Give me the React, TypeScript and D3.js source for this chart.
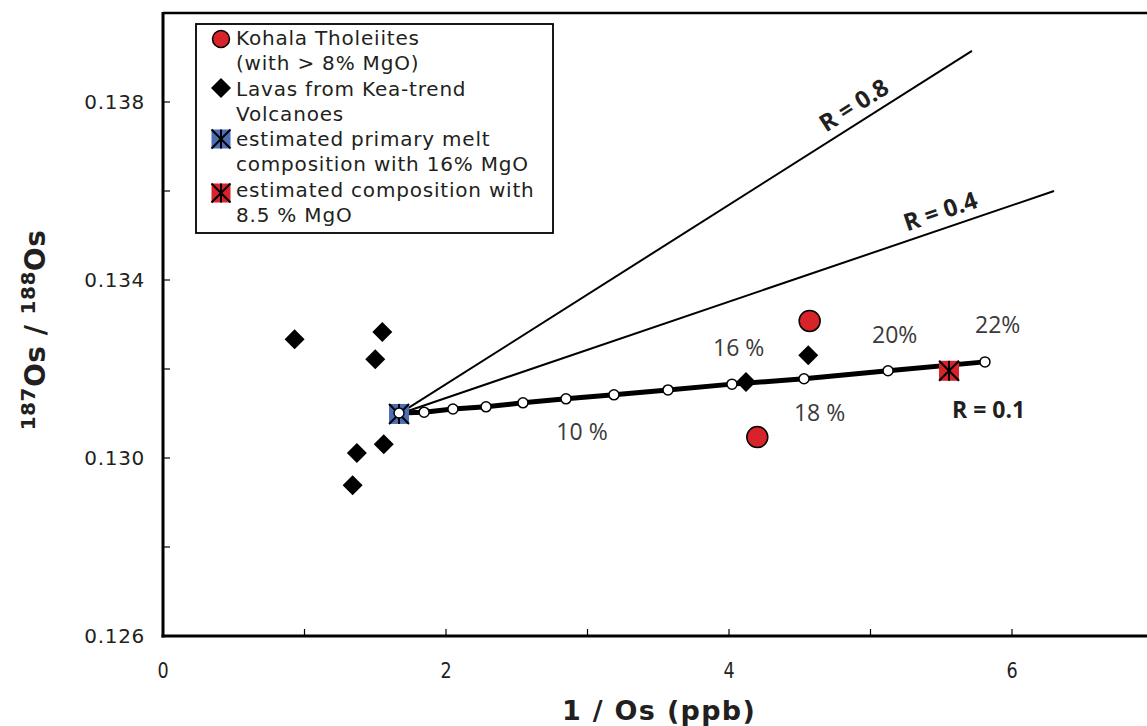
import React, { useEffect } from 'react';
import * as d3 from 'd3';

// Lavas from Kea-trend volcanoes
const keaX = [0.93, 1.55, 1.5, 1.37, 1.56, 1.34, 4.12, 4.56];
const keaY = [0.13267, 0.13283, 0.13222, 0.13011, 0.13031, 0.12939, 0.13171, 0.13231];

// Kohala tholeiites (> 8% MgO)
const kohalaX = [4.57, 4.2];
const kohalaY = [0.13308, 0.13047];

// estimated compositions
const primaryMelt = [1.668, 0.13099];
const melt85 = [5.555, 0.13196];

// R = 0.1 mixing curve points
const mixX = [1.668, 1.845, 2.049, 2.283, 2.544, 2.848, 3.187, 3.569, 4.021, 4.53, 5.124, 5.809];
const mixY = [0.13101, 0.13103, 0.1311, 0.13115, 0.13124, 0.13133, 0.13142, 0.13153, 0.13166, 0.13178, 0.13196, 0.13216];

// R = 0.8 / 0.4 lines end points
const rLabels = ['R = 0.8', 'R = 0.4'];
const rEndX = [5.717, 6.297];
const rEndY = [0.13915, 0.136];

const pctLabels = ['10 %', '16 %', '18 %', '20%', '22%'];
const pctX = [2.78, 3.887, 4.459, 5.011, 5.739];
const pctY = [0.1304, 0.13229, 0.13083, 0.13258, 0.13281];

const yMajor = [0.126, 0.13, 0.134, 0.138];
const yMinor = [0.128, 0.132, 0.136];
const xMajor = [0, 2, 4, 6];
const xMinor = [1, 3, 5, 7];

const W = 1147;
const H = 726;
const left = 163;
const bottom = 636;

const x = d3.scaleLinear().domain([0, 7]).range([left, left + 7 * 141.5]);
const y = d3.scaleLinear().domain([0.126, 0.14]).range([bottom, bottom - 3.5 * 178]);

const RED = '#d7242b';
const BLUE = '#4d6db5';
const TXT = '#231f20';

const starMark = (cx: number, cy: number, fill: string, s = 10) => (
  <g>
    <rect x={cx - s} y={cy - s} width={2 * s} height={2 * s} fill={fill} />
    <g stroke="#000" strokeWidth={2}>
      <line x1={cx} y1={cy - s} x2={cx} y2={cy + s} />
      <line x1={cx - s} y1={cy - s} x2={cx + s} y2={cy + s} />
      <line x1={cx - s} y1={cy + s} x2={cx + s} y2={cy - s} />
    </g>
  </g>
);

const diamond = d3.symbol(d3.symbolSquare, 200)();

const legendLines = [
  'Kohala Tholeiites',
  '(with > 8% MgO)',
  'Lavas from Kea-trend',
  'Volcanoes',
  'estimated primary melt',
  'composition with 16% MgO',
  'estimated composition with',
  '8.5 % MgO',
];

const App: React.FC = () => {
  useEffect(() => {
    document.body.style.margin = '0';
  }, []);

  const top = y(0.14);
  const px0 = x(primaryMelt[0]);
  const py0 = y(primaryMelt[1]);
  const mixLine = d3
    .line<number>()
    .x((d) => x(d))
    .y((d, i) => y(mixY[i]));

  const legX = 236;
  const legBase = [45, 70, 96, 121, 146, 171, 197, 222];

  return (
    <svg width={W} height={H} style={{ display: 'block', background: '#fff' }}>
      {/* frame */}
      <line x1={left} y1={top} x2={W} y2={top} stroke="#000" strokeWidth={2.5} />
      <line x1={left} y1={top - 1} x2={left} y2={bottom + 1.5} stroke="#000" strokeWidth={3} />
      <line x1={left - 1.5} y1={bottom} x2={W} y2={bottom} stroke="#000" strokeWidth={3} />

      {/* y ticks */}
      {[...yMajor, ...yMinor].map((v) => (
        <line key={'yt' + v} x1={left} x2={left + 7} y1={y(v)} y2={y(v)} stroke="#000" strokeWidth={1.2} />
      ))}
      {yMajor.map((v) => (
        <text
          key={'yl' + v}
          x={left - 18}
          y={y(v)}
          dy="0.36em"
          textAnchor="end"
          fontFamily="DejaVu Sans, Verdana, sans-serif"
          fontSize={20}
          letterSpacing={0.7}
          fill={TXT}
        >
          {d3.format('.3f')(v)}
        </text>
      ))}

      {/* x ticks */}
      {[...xMajor.filter((v) => v > 0), ...xMinor].map((v) => (
        <line key={'xt' + v} x1={x(v)} x2={x(v)} y1={bottom} y2={bottom - 7} stroke="#000" strokeWidth={1.2} />
      ))}
      {xMajor.map((v) => (
        <text
          key={'xl' + v}
          transform={`translate(${x(v)},678) scale(0.8,1)`}
          textAnchor="middle"
          fontFamily="DejaVu Sans, sans-serif"
          fontSize={22}
          fill={TXT}
        >
          {v}
        </text>
      ))}

      {/* axis titles */}
      <text
        x={659}
        y={720}
        textAnchor="middle"
        fontFamily="DejaVu Sans, Verdana, sans-serif"
        fontWeight="bold"
        fontSize={27}
        letterSpacing={1.3}
        fill={TXT}
      >
        1 / Os (ppb)
      </text>
      <text
        transform={`translate(45, ${330}) rotate(-90)`}
        textAnchor="middle"
        fontFamily="DejaVu Sans, Verdana, sans-serif"
        fontWeight="bold"
        fontSize={28}
        letterSpacing={0.5}
        fill={TXT}
      >
        <tspan fontSize={20} dy={-10}>187</tspan>
        <tspan dy={10}>Os / </tspan>
        <tspan fontSize={20} dy={-10}>188</tspan>
        <tspan dy={10}>Os</tspan>
      </text>

      {/* R = 0.8 and 0.4 lines */}
      {rLabels.map((lab, i) => {
        const x2 = x(rEndX[i]);
        const y2 = y(rEndY[i]);
        const ang = (Math.atan2(y2 - py0, x2 - px0) * 180) / Math.PI;
        const t = i === 0 ? 0.81 : 0.835;
        const lx = px0 + (x2 - px0) * t;
        const ly = py0 + (y2 - py0) * t;
        return (
          <g key={lab}>
            <line x1={px0} y1={py0} x2={x2} y2={y2} stroke="#000" strokeWidth={2} />
            <text
              transform={`translate(${lx},${ly}) rotate(${ang})`}
              dy={-9}
              textAnchor="middle"
              fontFamily="Open Sans, Noto Sans, sans-serif"
              fontWeight="bold"
              fontSize={24}
              fill={TXT}
            >
              {lab}
            </text>
          </g>
        );
      })}

      {/* R = 0.1 mixing line */}
      <path d={mixLine(mixX) || ''} fill="none" stroke="#000" strokeWidth={5} />
      <text
        x={952}
        y={418}
        fontFamily="Open Sans, Noto Sans, sans-serif"
        fontWeight="bold"
        fontSize={23}
        fill={TXT}
      >
        R = 0.1
      </text>

      {pctLabels.map((lab, i) => (
        <text
          key={lab}
          x={x(pctX[i])}
          y={y(pctY[i])}
          fontFamily="Open Sans, Noto Sans, sans-serif"
          fontSize={23}
          fill="#3a3a3a"
        >
          {lab}
        </text>
      ))}

      {/* estimated compositions */}
      {starMark(px0, py0, BLUE)}
      {starMark(x(melt85[0]), y(melt85[1]), RED)}

      {/* open circles */}
      {mixX.map((v, i) => (
        <circle key={'m' + i} cx={x(v)} cy={y(mixY[i])} r={5} fill="#fff" stroke="#000" strokeWidth={1.5} />
      ))}

      {/* Kea-trend lavas */}
      {keaX.map((v, i) => (
        <path
          key={'k' + i}
          d={diamond || ''}
          transform={`translate(${x(v)},${y(keaY[i])}) rotate(45)`}
          fill="#000"
        />
      ))}

      {/* Kohala tholeiites */}
      {kohalaX.map((v, i) => (
        <circle key={'c' + i} cx={x(v)} cy={y(kohalaY[i])} r={10.5} fill={RED} stroke="#000" strokeWidth={1.5} />
      ))}

      {/* legend */}
      <rect x={196} y={24} width={357} height={209} fill="#fff" stroke="#000" strokeWidth={1.8} />
      <circle cx={221} cy={39} r={8.5} fill={RED} stroke="#000" strokeWidth={1.5} />
      <path d={diamond || ''} transform="translate(221,88) rotate(45)" fill="#000" />
      {starMark(221, 139, BLUE, 9.5)}
      {starMark(221, 193, RED, 9.5)}
      {legendLines.map((t, i) => (
        <text
          key={t}
          x={legX}
          y={legBase[i]}
          fontFamily="DejaVu Sans, Verdana, sans-serif"
          fontSize={20}
          letterSpacing={0.8}
          fill={TXT}
        >
          {t}
        </text>
      ))}
    </svg>
  );
};

export default App;
